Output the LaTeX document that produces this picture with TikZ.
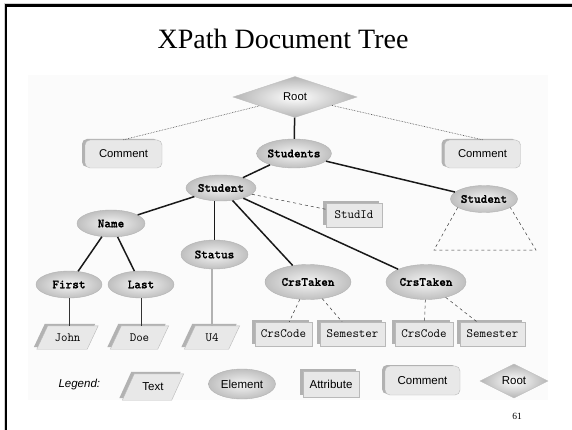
\documentclass[tikz,border=0pt]{standalone}
\usepackage{fontspec}
\setmainfont{Liberation Serif}
\setsansfont{Liberation Sans}
\newfontfamily\elemtt{lmmonolt10-bold.otf}[FakeBold=1]
\usetikzlibrary{shapes.geometric,shadows,backgrounds}

\newcommand\elemfont{\fontsize{12.6}{14}\selectfont\elemtt}
\newcommand\attrfont{\fontsize{12.6}{14}\selectfont\ttfamily}
\newcommand\labelfont{\fontsize{11.3}{13}\selectfont\sffamily}
\newcommand\legendfont{\fontsize{11.5}{13}\selectfont\sffamily}

% slanted frame with a left/top shadow behind a text node
\newcommand\paraframe[2][5.5pt]{%
  \begin{pgfonlayer}{background}
    \fill[gray!60]
      ([xshift=-#1-3pt,yshift=2pt]#2.south west) --
      ([xshift=-#1-3pt,yshift=2pt]#2.south east) --
      ([xshift=#1-3pt,yshift=2pt]#2.north east) --
      ([xshift=#1-3pt,yshift=2pt]#2.north west) -- cycle;
    \filldraw[fill=gray!18, draw=gray!55, line width=0.4pt]
      ([xshift=-#1]#2.south west) --
      ([xshift=-#1]#2.south east) --
      ([xshift=#1]#2.north east) --
      ([xshift=#1]#2.north west) -- cycle;
  \end{pgfonlayer}}

\tikzset{
  element/.style={ellipse, draw=gray!60, line width=0.4pt, shade,
    inner color=gray!8, outer color=gray!50, inner sep=0pt, font=\elemfont},
  attrbox/.style={rectangle, draw=gray!55, fill=gray!18, line width=0.4pt,
    inner sep=0pt, minimum height=24pt, font=\attrfont,
    general shadow={shadow xshift=-3pt, shadow yshift=2pt, fill=gray!60}},
  textbox/.style={rectangle, inner sep=0pt, minimum height=23pt,
    minimum width=48pt, font=\attrfont},
  commentbox/.style={rectangle, rounded corners=5pt, draw=gray!55, fill=gray!18,
    line width=0.4pt, inner sep=0pt, minimum width=76pt, minimum height=28pt,
    font=\labelfont,
    general shadow={shadow xshift=-3pt, shadow yshift=1pt, fill=gray!60}},
  rootshape/.style={diamond, draw=gray!50, line width=0.4pt, shade,
    inner color=white, outer color=gray!58, inner sep=0pt, font=\labelfont},
  treeedge/.style={line width=1.5pt, black!90},
  attredge/.style={dashed, line width=0.5pt, gray!45!black},
  commentedge/.style={densely dotted, line width=0.6pt, gray!50!black},
  textedge/.style={line width=0.7pt, gray!40!black},
  statusedge/.style={line width=1.3pt, gray!60},
}

\begin{document}
\begin{tikzpicture}[x=1pt,y=-1pt]
\useasboundingbox (0,0) rectangle (572,430);

% slide frame and diagram backdrop
\begin{pgfonlayer}{background}
\fill[gray!3] (28,75) rectangle (548,400);
\draw[gray!35, line width=1pt] (4.6,430) -- (4.6,3.6) -- (572,3.6);
\draw[black, line width=2.4pt] (6.2,430) -- (6.2,5.5) -- (572,5.5);
\end{pgfonlayer}

% title
\node[font=\fontsize{28}{32}\selectfont, anchor=base] (title) at (283,49) {XPath Document Tree};

% document tree
\node[rootshape, minimum width=124pt, minimum height=41pt] (root) at (295,97) {Root};
\node[element, minimum width=63pt, minimum height=29pt] (students) at (294,153.5) {Students};
\node[commentbox, minimum width=77pt] (cmtL) at (123.5,154) {Comment};
\node[commentbox] (cmtR) at (482.5,154) {Comment};

\node[element, minimum width=70pt, minimum height=26pt] (student) at (221,188) {Student};
\node[attrbox, minimum width=56pt] (studid) at (354,215) {StudId};
\node[element, minimum width=67pt, minimum height=27pt] (studentR) at (484,199) {Student};

\node[element, minimum width=68pt, minimum height=27pt] (name) at (111,223.5) {Name};
\node[element, minimum width=67pt, minimum height=29pt] (status) at (214.5,254.5) {Status};
\node[element, minimum width=66pt, minimum height=27pt] (first) at (69,284.5) {First};
\node[element, minimum width=66pt, minimum height=27pt] (last) at (141,284.5) {Last};
\node[element, minimum width=86pt, minimum height=35pt] (crs1) at (308,282) {CrsTaken};
\node[element, minimum width=80pt, minimum height=35pt] (crs2) at (426,282) {CrsTaken};

\node[textbox, minimum width=50pt] (john) at (67.5,337.5) {John};
\node[textbox, minimum width=47pt] (doe) at (139.5,337.5) {Doe};
\node[textbox, minimum width=44pt] (u4) at (212,337.5) {U4};
\paraframe{john}
\paraframe{doe}
\paraframe{u4}

\node[attrbox, minimum width=57pt] (cc1) at (283.5,334) {CrsCode};
\node[attrbox, minimum width=65pt] (sem1) at (352.5,334) {Semester};
\node[attrbox, minimum width=58pt] (cc2) at (424,334) {CrsCode};
\node[attrbox, minimum width=65pt] (sem2) at (492.5,334) {Semester};

% connectors
\draw[treeedge] (root) -- (students);
\draw[commentedge] (cmtL.north) -- (root);
\draw[commentedge] (cmtR.north) -- (root);
\draw[treeedge] (students) -- (student);
\draw[treeedge] (students) -- (studentR);
\draw[treeedge] (student) -- (name);
\draw[treeedge] (student.south -| status.north) -- (status.north);
\draw[treeedge] (student) -- (crs1);
\draw[treeedge] (student) -- (crs2);
\draw[attredge] (student) -- (studid);
\draw[treeedge] (name) -- (first);
\draw[treeedge] (name) -- (last);
\draw[textedge] (first) -- (first |- john.north);
\draw[textedge] (last) -- (last |- doe.north);
\draw[statusedge] (status.south -| u4.north) -- (u4.north);
\draw[attredge] (crs1) -- (cc1);
\draw[attredge] (crs1) -- (sem1);
\draw[attredge] (crs2) -- (cc2);
\draw[attredge] (crs2) -- (sem2);

% elided subtree of the second student
\coordinate (subL) at (434,250);
\coordinate (subR) at (536,250);
\draw[attredge] (studentR.198) -- (subL) -- (subR) -- (studentR.-18);

% legend
\node[font=\legendfont\itshape, anchor=west] (legendlabel) at (55,385) {Legend:};
\node[textbox, font=\legendfont, minimum width=49pt, minimum height=26pt] (ltext) at (153,387) {Text};
\paraframe[6pt]{ltext}
\node[element, font=\legendfont, minimum width=67pt, minimum height=30pt] (lelem) at (242,384) {Element};
\node[attrbox, font=\legendfont, minimum width=56pt, minimum height=26pt] (lattr) at (331,384) {Attribute};
\node[commentbox, font=\legendfont, minimum width=75pt, minimum height=29pt] (lcmt) at (422.5,380.5) {Comment};
\node[rootshape, font=\legendfont, minimum width=68pt, minimum height=34pt] (lroot) at (514,381) {Root};

% page number
\node[font=\fontsize{9.5}{10}\selectfont] (pagenum) at (517,416) {61};
\end{tikzpicture}
\end{document}
